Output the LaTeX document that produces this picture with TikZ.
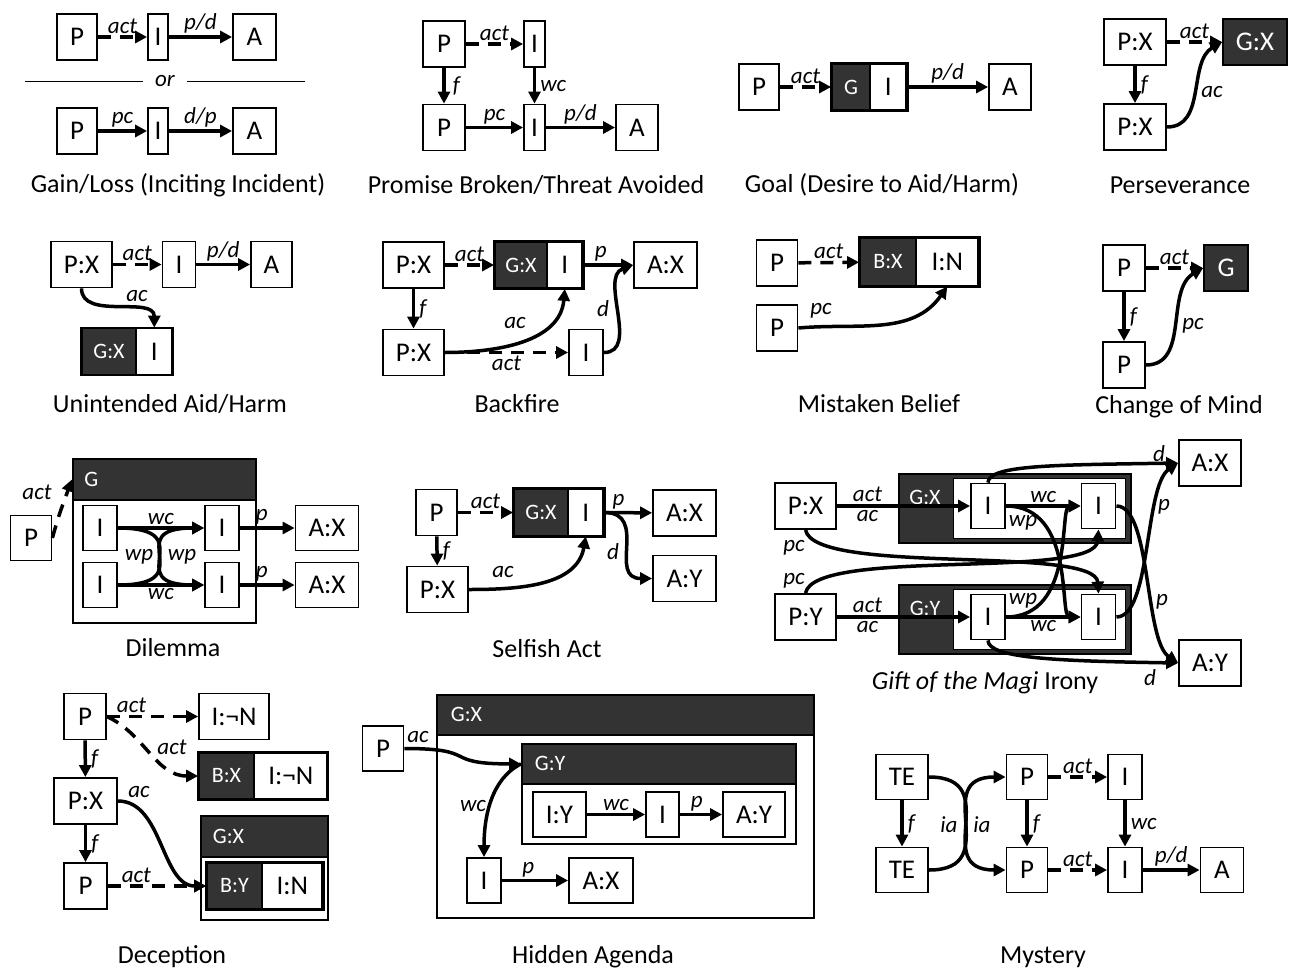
\documentclass[tikz,border=0pt]{standalone}
\usepackage{fontspec}
\setmainfont{Carlito}
\usetikzlibrary{arrows.meta, positioning}
\definecolor{darkfill}{HTML}{333333}
\begin{document}
\begin{tikzpicture}[x=1pt,y=1pt,
        box/.style={draw,line width=1.8pt,fill=white,inner sep=0pt,minimum height=46pt,font=\fontsize{27}{32}\selectfont},
        dark/.style={box,fill=darkfill,text=white,font=\fontsize{22}{26}\selectfont},
        darkbig/.style={box,fill=darkfill,text=white},
        lbl/.style={font=\fontsize{23}{27}\selectfont\itshape,inner sep=2pt},
        arw/.style={line width=3.5pt,-{Triangle[length=12pt,width=12pt]}},
        dasharw/.style={arw,dash pattern=on 13pt off 9pt},
        thickframe/.style={line width=3pt},
        capt/.style={font=\fontsize{26}{31}\selectfont}]
        \useasboundingbox (0,0) rectangle (1290,-969);

        \node[box,minimum width=40pt] (glP1) at (77,-37) {P};
        \node[box,minimum width=20pt] (glI1) at (158,-37) {I};
        \node[box,minimum width=43pt] (glA1) at (254.5,-37) {A};
        \node[lbl,inner xsep=12pt] (glOr) at (165,-81) {or};
        \node[box,minimum width=40pt] (glP2) at (77,-131) {P};
        \node[box,minimum width=20pt] (glI2) at (158,-131) {I};
        \node[box,minimum width=43pt] (glA2) at (254.5,-131) {A};
        \draw[dasharw] (glP1) -- node[lbl,above]{act} (glI1);
        \draw[arw] (glI1) -- node[lbl,above]{p/d} (glA1);
        \draw[line width=1pt] (25,-81) -- (glOr);
        \draw[line width=1pt] (glOr) -- (305,-81);
        \draw[arw] (glP2) -- node[lbl,above]{pc} (glI2);
        \draw[arw] (glI2) -- node[lbl,above]{d/p} (glA2);
        \node[capt] (glCap) at (178,-185) {Gain/Loss (Inciting Incident)};

        \node[box,minimum width=42pt] (pbP1) at (444,-44) {P};
        \node[box,minimum width=21pt] (pbI1) at (534.5,-44) {I};
        \node[box,minimum width=42pt] (pbP2) at (444,-127.5) {P};
        \node[box,minimum width=21pt] (pbI2) at (534.5,-127.5) {I};
        \node[box,minimum width=42pt] (pbA2) at (637,-127.5) {A};
        \draw[dasharw] (pbP1) -- node[lbl,above]{act} (pbI1);
        \draw[arw] (pbP1) -- node[lbl,right=5pt]{f} (pbP2);
        \draw[arw] (pbI1) -- node[lbl,right=2pt]{wc} (pbI2);
        \draw[arw] (pbP2) -- node[lbl,above]{pc} (pbI2);
        \draw[arw] (pbI2) -- node[lbl,above]{p/d} (pbA2);
        \node[capt] (pbCap) at (536,-185) {Promise Broken/Threat Avoided};

        \node[box,minimum width=40pt] (goP) at (759,-87) {P};
        \node[dark,minimum width=38pt] (goG) at (851,-87) {G};
        \node[box,minimum width=36pt,right=-1.5pt of goG] (goI) {I};
        \node[box,minimum width=42pt] (goA) at (1010,-87) {A};
        \draw[thickframe] (goG.north west) rectangle (goI.south east);
        \draw[dasharw] (goP) -- node[lbl,above]{act} (goG);
        \draw[arw] (goI) -- node[lbl,above]{p/d} (goA);
        \node[capt] (goCap) at (882,-185) {Goal (Desire to Aid/Harm)};

        \node[box,minimum width=62pt] (psX1) at (1135,-42) {P:X};
        \node[darkbig,minimum width=64pt] (psG) at (1255,-42) {G:X};
        \node[box,minimum width=62pt] (psX2) at (1135,-127) {P:X};
        \draw[dasharw] (psX1) -- node[lbl,above]{act} (psG);
        \draw[arw] (psX1) -- node[lbl,right=2pt]{f} (psX2);
        \draw[arw] (psX2.east) to[out=0,in=210] (psG.west);
        \node[lbl] (psLac) at (1212,-92) {ac};
        \node[capt] (psCap) at (1180,-185) {Perseverance};

        \node[box,minimum width=61pt] (uaX) at (81.5,-264.5) {P:X};
        \node[box,minimum width=33pt] (uaI) at (179,-264.5) {I};
        \node[box,minimum width=41pt] (uaA) at (271.5,-264.5) {A};
        \node[dark,minimum width=54pt] (uaG) at (109,-351.5) {G:X};
        \node[box,minimum width=36pt,right=-1.5pt of uaG] (uaI2) {I};
        \draw[line width=2pt] (uaG.north west) rectangle (uaI2.south east);
        \draw[dasharw] (uaX) -- node[lbl,above]{act} (uaI);
        \draw[arw] (uaI) -- node[lbl,above]{p/d} (uaA);
        \draw[arw] (uaX.south) to[out=-90,in=90] (uaI2.north);
        \node[lbl] (uaLac) at (137,-296) {ac};
        \node[capt] (uaCap) at (170,-404) {Unintended Aid/Harm};

        \node[box,minimum width=61pt] (bfX1) at (413.5,-265) {P:X};
        \node[dark,minimum width=52pt] (bfG) at (521,-265) {G:X};
        \node[box,minimum width=35pt,right=-1.5pt of bfG] (bfI1) {I};
        \node[box,minimum width=63pt] (bfA) at (665.5,-265) {A:X};
        \node[box,minimum width=61pt] (bfX2) at (413.5,-352.5) {P:X};
        \node[box,minimum width=34pt] (bfI2) at (586,-352.5) {I};
        \draw[thickframe] (bfG.north west) rectangle (bfI1.south east);
        \draw[dasharw] (bfX1) -- node[lbl,above]{act} (bfG);
        \draw[arw] (bfI1) -- node[lbl,above,pos=0.35]{p} (bfA);
        \draw[arw] (bfX1) -- node[lbl,right=2pt]{f} (bfX2);
        \draw[arw] (bfX2.east) to[out=0,in=-95] (bfI1.south);
        \draw[dasharw] (bfX2) -- node[lbl,below]{act} (bfI2);
        \draw[arw] (bfI2.east) to[out=0,in=200] (bfA.west);
        \node[lbl] (bfLac) at (515,-323) {ac};
        \node[lbl] (bfLd) at (603,-309) {d};
        \node[capt] (bfCap) at (517,-404) {Backfire};

        \node[box,minimum width=41pt] (mbP1) at (777,-263) {P};
        \node[dark,minimum width=56pt,minimum height=47pt] (mbB) at (888,-262) {B:X};
        \node[box,minimum width=62pt,minimum height=47pt,right=-1.5pt of mbB] (mbI) {I:N};
        \node[box,minimum width=41pt] (mbP2) at (777,-328) {P};
        \draw[thickframe] (mbB.north west) rectangle (mbI.south east);
        \draw[dasharw] (mbP1) -- node[lbl,above]{act} (mbB);
        \draw[arw] (mbP2.east) to[out=5,in=-125] (mbI.south);
        \node[lbl] (mbLpc) at (821,-311) {pc};
        \node[capt] (mbCap) at (879,-404) {Mistaken Belief};

        \node[box,minimum width=42pt] (cmP1) at (1124,-268) {P};
        \node[darkbig,minimum width=44pt] (cmG) at (1226,-268) {G};
        \node[box,minimum width=42pt] (cmP2) at (1124,-365) {P};
        \draw[dasharw] (cmP1) -- node[lbl,above]{act} (cmG);
        \draw[arw] (cmP1) -- node[lbl,right=2pt]{f} (cmP2);
        \draw[arw] (cmP2.east) to[out=0,in=210] (cmG.west);
        \node[lbl] (cmLpc) at (1193,-326) {pc};
        \node[capt] (cmCap) at (1179,-407) {Change of Mind};

        \node[box,minimum width=183pt,minimum height=164pt,anchor=north west] (dlBox) at (72,-458) {};
        \node[dark,minimum width=183pt,minimum height=41pt,anchor=north west,text width=160pt,align=left] (dlG) at (72,-458) {G};
        \node[box,minimum width=34pt,minimum height=45pt] (dlI1) at (100,-528) {I};
        \node[box,minimum width=34pt,minimum height=45pt] (dlI2) at (100,-585) {I};
        \node[box,minimum width=34pt,minimum height=45pt] (dlI3) at (222,-528) {I};
        \node[box,minimum width=34pt,minimum height=45pt] (dlI4) at (222,-585) {I};
        \node[box,minimum width=63pt,minimum height=45pt] (dlA1) at (327,-528) {A:X};
        \node[box,minimum width=63pt,minimum height=45pt] (dlA2) at (327,-585) {A:X};
        \node[box,minimum width=41pt,minimum height=45pt] (dlP) at (31,-538) {P};
        \draw[arw] (dlI1) -- node[lbl,above]{wc} (dlI3);
        \draw[arw] (dlI2) -- node[lbl,below]{wc} (dlI4);
        \draw[arw] (dlI1.east) .. controls (dlI4.west |- dlI1.east) and (dlI1.east |- dlI4.west) .. (dlI4.west);
        \draw[arw] (dlI2.east) .. controls (dlI3.west |- dlI2.east) and (dlI2.east |- dlI3.west) .. (dlI3.west);
        \node[lbl] (dlLwp1) at (139,-557) {wp};
        \node[lbl] (dlLwp2) at (182,-557) {wp};
        \draw[arw] (dlI3) -- node[lbl,above,pos=0.4]{p} (dlA1);
        \draw[arw] (dlI4) -- node[lbl,above,pos=0.4]{p} (dlA2);
        \draw[dasharw] (dlP.east) to[out=75,in=-110] (dlG.west);
        \node[lbl] (dlLact) at (37,-492) {act};
        \node[capt] (dlCap) at (173,-648) {Dilemma};

        \node[box,minimum width=41pt] (saP) at (436.5,-512.5) {P};
        \node[dark,minimum width=54pt] (saG) at (541,-512.5) {G:X};
        \node[box,minimum width=35pt,right=-1.5pt of saG] (saI) {I};
        \node[box,minimum width=63pt] (saAX) at (684.5,-513) {A:X};
        \node[box,minimum width=63pt] (saAY) at (684.5,-578.5) {A:Y};
        \node[box,minimum width=61pt] (saX) at (437.5,-589.5) {P:X};
        \draw[thickframe] (saG.north west) rectangle (saI.south east);
        \draw[dasharw] (saP) -- node[lbl,above]{act} (saG);
        \draw[arw] (saI) -- node[lbl,above,pos=0.3]{p} (saAX);
        \draw[arw] (saI.east) .. controls +(45,0) and +(-45,0) .. (saAY.west);
        \draw[arw] (saP) -- node[lbl,right=2pt]{f} (saX);
        \draw[arw] (saX.east) to[out=0,in=-100] (saI.south);
        \node[lbl] (saLd) at (613,-552) {d};
        \node[lbl] (saLac) at (503,-572) {ac};
        \node[capt] (saCap) at (547,-649) {Selfish Act};

        \node[box,minimum width=61pt] (gmPX) at (805.5,-506) {P:X};
        \node[box,minimum width=61pt] (gmPY) at (805.5,-617) {P:Y};
        \node[dark,minimum width=232pt,minimum height=69pt,anchor=north west] (gmGX) at (898,-473) {};
        \node[box,minimum width=172pt,minimum height=60pt,anchor=north west,line width=1pt] (gmWX) at (953,-478) {};
        \node[dark,draw=none,fill=none] (gmLX) at (925,-497) {G:X};
        \node[dark,minimum width=232pt,minimum height=69pt,anchor=north west] (gmGY) at (898,-584) {};
        \node[box,minimum width=172pt,minimum height=60pt,anchor=north west,line width=1pt] (gmWY) at (953,-589) {};
        \node[dark,draw=none,fill=none] (gmLY) at (925,-608) {G:Y};
        \node[box,minimum width=34pt,minimum height=45pt] (gmI1) at (988,-506) {I};
        \node[box,minimum width=34pt,minimum height=45pt] (gmI2) at (1098.5,-506) {I};
        \node[box,minimum width=34pt,minimum height=45pt] (gmI3) at (988,-617) {I};
        \node[box,minimum width=34pt,minimum height=45pt] (gmI4) at (1098.5,-617) {I};
        \node[box,minimum width=62pt] (gmAX) at (1210,-463) {A:X};
        \node[box,minimum width=62pt] (gmAY) at (1210,-663) {A:Y};
        \draw[arw] (gmPX) -- node[lbl,above,pos=0.23,inner sep=3pt]{act} node[lbl,below,pos=0.23,inner sep=3pt]{ac} (gmI1);
        \draw[arw] (gmPY) -- node[lbl,above,pos=0.23,inner sep=3pt]{act} node[lbl,below,pos=0.23,inner sep=3pt]{ac} (gmI3);
        \draw[arw] (gmI1) -- node[lbl,above]{wc} (gmI2);
        \draw[arw] (gmI3) -- node[lbl,below]{wc} (gmI4);
        \draw[arw] (gmI1.east) .. controls +(70,0) and +(-22,0) .. (gmI4.west);
        \draw[arw] (gmI3.east) .. controls +(70,0) and +(-22,0) .. (gmI2.west);
        \node[lbl] (gmLwp1) at (1023,-523) {wp};
        \node[lbl] (gmLwp2) at (1023,-601) {wp};
        \draw[arw] (gmPX.south) .. controls +(9,-46) and +(-3,49) .. (gmI4.north);
        \draw[arw] (gmPY.north) .. controls +(9,46) and +(-3,-51) .. (gmI2.south);
        \node[lbl] (gmLpc1) at (794,-548) {pc};
        \node[lbl] (gmLpc2) at (794,-581) {pc};
        \draw[arw] (gmI1.north) .. controls +(0,18) and +(-120,-2) .. (gmAX.west);
        \draw[arw] (gmI2.east) .. controls +(35,0) and +(-34,23) .. (gmAY.west);
        \draw[arw] (gmI4.east) .. controls +(35,0) and +(-34,-23) .. (gmAX.west);
        \draw[arw] (gmI3.south) .. controls +(0,-18) and +(-120,2) .. (gmAY.west);
        \node[lbl] (gmLd1) at (1159,-454) {d};
        \node[lbl] (gmLp1) at (1164,-507) {p};
        \node[lbl] (gmLp2) at (1162,-602) {p};
        \node[lbl] (gmLd2) at (1150,-678) {d};
        \node[capt] (gmCap) at (985,-683) {\textit{Gift of the Magi} Irony};

        \node[box,minimum width=42pt] (dcP1) at (85,-716.5) {P};
        \node[box,minimum width=70pt] (dcI1) at (234,-716.5) {I:¬N};
        \node[dark,minimum width=55pt] (dcB1) at (226.5,-776) {B:X};
        \node[box,minimum width=73pt,right=-1.5pt of dcB1] (dcI2) {I:¬N};
        \draw[line width=2pt] (dcB1.north west) rectangle (dcI2.south east);
        \node[box,minimum width=63pt] (dcX) at (85.5,-801) {P:X};
        \node[box,minimum width=127pt,minimum height=104pt,anchor=north west] (dcBox) at (200,-815) {};
        \node[dark,minimum width=127pt,minimum height=41pt,anchor=north west,text width=103pt,align=left] (dcG) at (200,-815) {G:X};
        \node[dark,minimum width=55pt] (dcB2) at (234.5,-886) {B:Y};
        \node[box,minimum width=60pt,right=-1.5pt of dcB2] (dcI3) {I:N};
        \draw[thickframe] (dcB2.north west) rectangle (dcI3.south east);
        \node[box,minimum width=43pt] (dcP2) at (85.5,-886) {P};
        \draw[dasharw] (dcP1) -- node[lbl,above,pos=0.27]{act} (dcI1);
        \draw[dasharw] (dcP1.east) to[out=-25,in=180] (dcB1.west);
        \node[lbl] (dcLact) at (172,-747) {act};
        \draw[arw] (dcP1) -- node[lbl,right=2pt]{f} (dcX);
        \draw[arw] (dcX) -- node[lbl,right=2pt]{f} (dcP2);
        \draw[arw] (dcX.east) .. controls +(45,0) and +(-45,0) .. (dcB2.west);
        \node[lbl] (dcLac) at (139,-792) {ac};
        \draw[dasharw] (dcP2) -- node[lbl,above,pos=0.29]{act} (dcB2);
        \node[capt] (dcCap) at (172,-957) {Deception};

        \node[box,minimum width=377pt,minimum height=223pt,anchor=north west] (haBoxX) at (436,-694) {};
        \node[dark,minimum width=377pt,minimum height=40pt,anchor=north west,text width=349pt,align=left] (haGX) at (436,-694) {G:X};
        \node[box,minimum width=274pt,minimum height=100pt,anchor=north west] (haBoxY) at (521,-743) {};
        \node[dark,minimum width=274pt,minimum height=40pt,anchor=north west,text width=248pt,align=left] (haGY) at (521,-743) {G:Y};
        \node[box,minimum width=41pt,minimum height=45pt] (haP) at (383,-748.5) {P};
        \node[box,minimum width=53pt,minimum height=45pt] (haIY) at (559.5,-814.5) {I:Y};
        \node[box,minimum width=33pt,minimum height=45pt] (haI1) at (662.5,-814.5) {I};
        \node[box,minimum width=62pt,minimum height=45pt] (haAY) at (754,-814.5) {A:Y};
        \node[box,minimum width=34pt,minimum height=45pt] (haI2) at (484,-880.5) {I};
        \node[box,minimum width=64pt,minimum height=45pt] (haAX) at (601,-880.5) {A:X};
        \draw[arw] (haP.east) .. controls +(77,0) and +(-81,0) .. (haGY.west);
        \draw[arw] (haGY.west) .. controls +(-30,-15) and +(0,40) .. (haI2.north);
        \node[lbl] (haLac) at (418,-737) {ac};
        \node[lbl] (haLwc) at (473,-806) {wc};
        \draw[arw] (haIY) -- node[lbl,above]{wc} (haI1);
        \draw[arw] (haI1) -- node[lbl,above,pos=0.4]{p} (haAY);
        \draw[arw] (haI2) -- node[lbl,above,pos=0.4]{p} (haAX);
        \node[capt] (haCap) at (593,-957) {Hidden Agenda};

        \node[box,minimum width=52pt,minimum height=45pt] (myT1) at (902,-777) {TE};
        \node[box,minimum width=52pt,minimum height=45pt] (myT2) at (902,-870) {TE};
        \node[box,minimum width=41pt,minimum height=45pt] (myP1) at (1027,-777) {P};
        \node[box,minimum width=41pt,minimum height=45pt] (myP2) at (1027,-870) {P};
        \node[box,minimum width=34pt,minimum height=45pt] (myI1) at (1125,-777) {I};
        \node[box,minimum width=34pt,minimum height=45pt] (myI2) at (1125,-870) {I};
        \node[box,minimum width=43pt,minimum height=45pt] (myA) at (1222,-870) {A};
        \draw[arw] (myT1) -- node[lbl,right=2pt]{f} (myT2);
        \draw[arw] (myT1.east) .. controls (myP2.west |- myT1.east) and (myT1.east |- myP2.west) .. (myP2.west);
        \draw[arw] (myT2.east) .. controls (myP1.west |- myT2.east) and (myT2.east |- myP1.west) .. (myP1.west);
        \node[lbl] (myLia1) at (949,-825) {ia};
        \node[lbl] (myLia2) at (982,-825) {ia};
        \draw[dasharw] (myP1) -- node[lbl,above]{act} (myI1);
        \draw[arw] (myP1) -- node[lbl,right=2pt]{f} (myP2);
        \draw[arw] (myI1) -- node[lbl,right=2pt]{wc} (myI2);
        \draw[dasharw] (myP2) -- node[lbl,above]{act} (myI2);
        \draw[arw] (myI2) -- node[lbl,above]{p/d} (myA);
        \node[capt] (myCap) at (1043,-957) {Mystery};
    \end{tikzpicture}
\end{document}
